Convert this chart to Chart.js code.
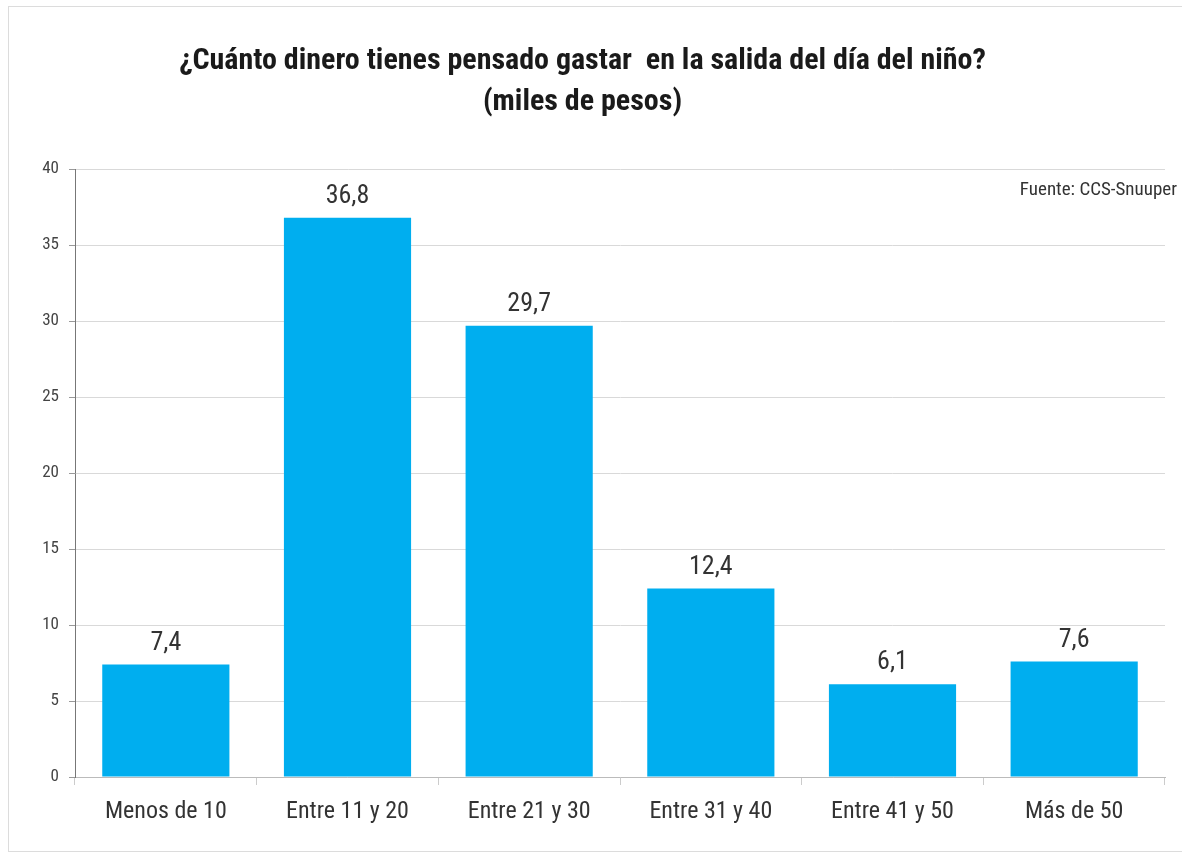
<!DOCTYPE html>
<html>
<head>
<meta charset="utf-8">
<script src="https://cdn.jsdelivr.net/npm/chart.js@4.4.0/dist/chart.umd.min.js"></script>
<style>
  html, body { margin: 0; padding: 0; background: #fff; }
  #wrap { position: relative; width: 1182px; height: 854px; }
  #frame { position: absolute; left: 8px; top: 6px; width: 1180px; height: 846px; border: 1px solid #dcdcdc; box-sizing: border-box; }
  #wrap canvas { position: absolute; left: 0; top: 0; }
</style>
</head>
<body>
<div id="wrap">
  <div id="frame"></div>
  <canvas id="gastoChart"></canvas>
</div>
<script>
// datos
var categorias = ['Menos de 10', 'Entre 11 y 20', 'Entre 21 y 30', 'Entre 31 y 40', 'Entre 41 y 50', 'Más de 50'];
var porcentajes = [7.4, 36.8, 29.7, 12.4, 6.1, 7.6];
var ticksY = [0, 5, 10, 15, 20, 25, 30, 35, 40];

var fuenteCond = "'Roboto Condensed', 'Liberation Sans Narrow', 'DejaVu Sans Condensed', sans-serif";

// etiquetas sobre las barras + fuente
var etiquetasPlugin = {
    id: 'etiquetas',
    afterDatasetsDraw: function (chart) {
        var ctx = chart.ctx;
        var meta = chart.getDatasetMeta(0);
        ctx.save();
        ctx.font = '26px ' + fuenteCond;
        ctx.fillStyle = '#333';
        ctx.textAlign = 'center';
        ctx.textBaseline = 'alphabetic';
        meta.data.forEach(function (bar, i) {
            var txt = porcentajes[i].toFixed(1).replace('.', ',');
            ctx.fillText(txt, bar.x, bar.y - 15);
        });
        ctx.font = '19px ' + fuenteCond;
        ctx.textAlign = 'right';
        ctx.textBaseline = 'middle';
        ctx.fillStyle = '#333';
        ctx.fillText('Fuente: CCS-Snuuper', 1177, 190);
        ctx.restore();
    }
};

var gastoChart = new Chart(document.getElementById('gastoChart'), {
    type: 'bar',
    data: {
        labels: categorias,
        datasets: [{
            data: porcentajes,
            backgroundColor: '#00aeef',
            borderWidth: 0,
            barPercentage: 0.7,
            categoryPercentage: 1
        }]
    },
    options: {
        responsive: true,
        maintainAspectRatio: false,
        animation: false,
        layout: { padding: { left: 0, right: 17, top: 0, bottom: 0 } },
        plugins: {
            legend: { display: false },
            tooltip: { enabled: false },
            title: {
                display: true,
                text: ['¿Cuánto dinero tienes pensado gastar  en la salida del día del niño?', '(miles de pesos)'],
                color: '#1a1a1a',
                font: { family: fuenteCond, size: 30, weight: 'bold', lineHeight: 1.37 },
                padding: { top: 41, bottom: 46 }
            }
        },
        scales: {
            x: {
                grid: {
                    display: true,
                    drawOnChartArea: false,
                    offset: true,
                    tickLength: 8,
                    tickColor: '#cccccc'
                },
                border: { color: '#bbbbbb' },
                ticks: {
                    color: '#333',
                    font: { family: fuenteCond, size: 24 },
                    padding: 13
                },
                afterFit: function (scale) { scale.height = 77; }
            },
            y: {
                min: 0,
                max: 40,
                afterBuildTicks: function (scale) {
                    scale.ticks = ticksY.map(function (v) { return { value: v }; });
                },
                grid: {
                    color: '#d9d9d9',
                    tickLength: 6,
                    tickColor: '#999999'
                },
                border: { color: '#777777' },
                ticks: {
                    color: '#444',
                    font: { family: fuenteCond, size: 17 },
                    padding: 10
                },
                afterFit: function (scale) { scale.width = 75; }
            }
        }
    },
    plugins: [etiquetasPlugin]
});
</script>
</body>
</html>
